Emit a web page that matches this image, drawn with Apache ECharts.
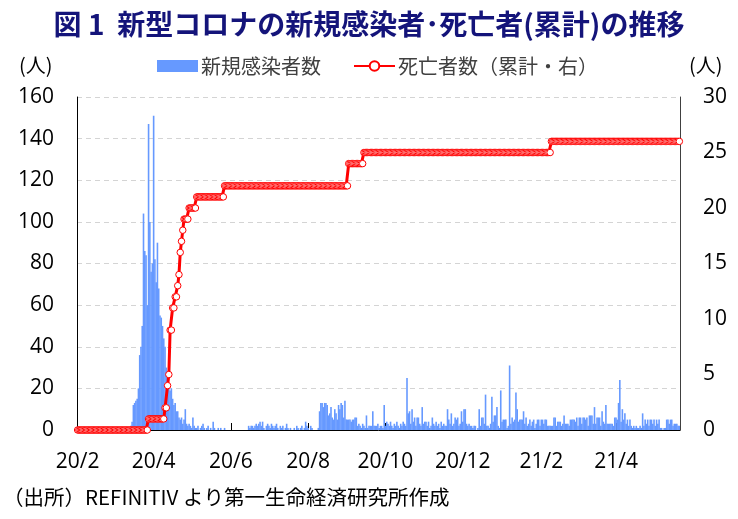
<!DOCTYPE html>
<html>
<head>
<meta charset="utf-8">
<script src="https://cdn.jsdelivr.net/npm/echarts@6/dist/echarts.min.js"></script>
<style>
html,body{margin:0;padding:0;background:#fff;}
#chart{width:738px;height:519px;}
</style>
</head>
<body>
<div id="chart"></div>
<script>
// ---- data (daily, starting 2020-02-01) ----
var startDate = '2020-02-01';
var newCases = [
0,0,0,0,0,0,0,0,0,0,
0,0,0,0,0,0,0,0,0,0,
0,0,0,0,0,0,0,0,1,0,
0,0,1,0,1,0,0,0,0,0,
1,1,2,4,12,13,14,15,20,36,
40,50,104,86,84,60,147,100,76,80,
151,82,71,90,68,55,54,50,44,40,
30,22,20,19,20,15,12,13,9,9,
6,5,6,3,5,10,3,2,3,2,
1,6,2,1,1,2,0,1,2,3,
1,0,1,2,0,1,0,4,1,0,
0,1,0,1,0,0,1,0,0,0,
0,0,0,0,0,0,0,0,0,0,
0,0,0,0,0,2,1,2,2,1,
2,3,2,3,4,2,4,1,0,2,
3,2,1,3,2,1,2,3,1,0,
2,1,2,0,1,3,1,0,1,0,
0,1,0,2,1,0,1,2,0,1,
4,2,1,0,2,1,0,0,0,0,
1,9,13,13,11,13,13,12,7,8,
11,6,5,10,8,5,12,10,13,12,
6,14,5,5,5,5,4,5,5,6,
6,2,3,2,1,3,2,1,7,1,
2,2,2,9,2,2,2,3,1,2,
2,1,12,2,4,3,2,4,2,1,
3,2,4,2,1,3,2,4,3,2,
25,8,9,3,10,4,6,2,6,6,
3,2,11,3,4,4,2,4,1,2,
6,3,2,4,2,3,1,4,2,3,
2,2,10,5,3,8,2,3,6,5,
6,2,3,9,4,10,10,3,2,3,
2,2,1,2,2,0,1,10,2,6,
6,3,17,2,2,1,3,16,4,7,
7,11,2,1,19,4,5,5,5,1,
2,31,3,6,4,5,18,10,4,5,
5,5,9,3,6,2,3,5,2,4,
5,1,3,5,5,2,5,5,3,5,
5,2,2,2,2,2,6,6,2,4,
4,4,2,3,7,3,3,3,2,5,
5,5,5,4,6,2,6,6,3,6,
6,5,6,2,7,7,7,3,11,3,
6,6,6,2,9,4,3,12,3,3,
3,3,3,2,6,6,5,13,24,4,
10,5,8,3,5,2,5,2,1,2,
1,2,1,1,2,1,8,2,5,3,
5,2,5,5,3,5,2,5,3,5,
1,1,0,1,1,5,5,3,5,5,
2,3,3,3,2,2
];
var deathsCum = [
0,0,0,0,0,0,0,0,0,0,
0,0,0,0,0,0,0,0,0,0,
0,0,0,0,0,0,0,0,0,0,
0,0,0,0,0,0,0,0,0,0,
0,0,0,0,0,0,0,0,0,0,
0,0,0,0,0,0,1,1,1,1,
1,1,1,1,1,1,1,1,1,2,
2,4,5,9,9,11,11,12,12,13,
14,16,17,18,19,19,19,19,20,20,
20,20,20,20,21,21,21,21,21,21,
21,21,21,21,21,21,21,21,21,21,
21,21,21,21,21,21,22,22,22,22,
22,22,22,22,22,22,22,22,22,22,
22,22,22,22,22,22,22,22,22,22,
22,22,22,22,22,22,22,22,22,22,
22,22,22,22,22,22,22,22,22,22,
22,22,22,22,22,22,22,22,22,22,
22,22,22,22,22,22,22,22,22,22,
22,22,22,22,22,22,22,22,22,22,
22,22,22,22,22,22,22,22,22,22,
22,22,22,22,22,22,22,22,22,22,
22,22,22,22,24,24,24,24,24,24,
24,24,24,24,24,24,25,25,25,25,
25,25,25,25,25,25,25,25,25,25,
25,25,25,25,25,25,25,25,25,25,
25,25,25,25,25,25,25,25,25,25,
25,25,25,25,25,25,25,25,25,25,
25,25,25,25,25,25,25,25,25,25,
25,25,25,25,25,25,25,25,25,25,
25,25,25,25,25,25,25,25,25,25,
25,25,25,25,25,25,25,25,25,25,
25,25,25,25,25,25,25,25,25,25,
25,25,25,25,25,25,25,25,25,25,
25,25,25,25,25,25,25,25,25,25,
25,25,25,25,25,25,25,25,25,25,
25,25,25,25,25,25,25,25,25,25,
25,25,25,25,25,25,25,25,25,25,
25,25,25,25,26,26,26,26,26,26,
26,26,26,26,26,26,26,26,26,26,
26,26,26,26,26,26,26,26,26,26,
26,26,26,26,26,26,26,26,26,26,
26,26,26,26,26,26,26,26,26,26,
26,26,26,26,26,26,26,26,26,26,
26,26,26,26,26,26,26,26,26,26,
26,26,26,26,26,26,26,26,26,26,
26,26,26,26,26,26,26,26,26,26,
26,26,26,26,26,26,26,26,26,26,
26,26,26,26,26,26
];
var xTickDates  = ['2020-02-01','2020-04-01','2020-06-01','2020-08-01','2020-10-01','2020-12-01','2021-02-01','2021-04-01'];
var xTickLabels = ['20/2','20/4','20/6','20/8','20/10','20/12','21/2','21/4'];
var seriesNames = ['新規感染者数','死亡者数（累計・右）'];

// daily date categories
var dates = [];
(function(){
  var p = startDate.split('-');
  var t0 = Date.UTC(+p[0], +p[1]-1, +p[2]);
  for (var i = 0; i < newCases.length; i++) {
    var d = new Date(t0 + i*86400000);
    var m = d.getUTCMonth()+1, dd = d.getUTCDate();
    dates.push(d.getUTCFullYear()+'-'+(m<10?'0':'')+m+'-'+(dd<10?'0':'')+dd);
  }
})();
function isTick(idx, val){ return xTickDates.indexOf(val) >= 0; }

var font = '"Open Sans","Noto Sans CJK JP",sans-serif';
var jp = '"Noto Sans CJK JP","Noto Sans",sans-serif';

var chart = echarts.init(document.getElementById('chart'), null, {renderer:'canvas'});
chart.setOption({
  animation: false,
  backgroundColor: '#fff',
  title: {
    text: '図 1  新型コロナの新規感染者･死亡者(累計)の推移',
    left: 'center', top: 5,
    textStyle: {fontFamily: jp, fontSize: 28, fontWeight: 'bold', color: '#14147a'}
  },
  legend: {
    left: 152, top: 51,
    itemWidth: 41, itemHeight: 12, itemGap: 32,
    textStyle: {fontFamily: jp, fontSize: 20, color: '#404040', padding:[0,0,0,-2]},
    data: [
      {name: seriesNames[0], icon: 'rect'},
      {name: seriesNames[1]}
    ]
  },
  graphic: [
    {type:'text', left: 19, top: 55, style:{text:'(人)', font:'20px '+jp, fill:'#000'}},
    {type:'text', left: 689, top: 55, style:{text:'(人)', font:'20px '+jp, fill:'#000'}},
    {type:'text', left: 3, top: 487, style:{text:'（出所）REFINITIV より第一生命経済研究所作成', font:'20.5px '+jp, fill:'#000'}}
  ],
  grid: {left: 77, right: 58, top: 97, bottom: 89, containLabel: false},
  xAxis: {
    type: 'category',
    data: dates,
    boundaryGap: true,
    axisLine: {show: true, lineStyle: {color: '#000', width: 1}},
    axisTick: {show: true, inside: true, length: 7, alignWithLabel: true, interval: isTick, lineStyle:{color:'#000'}},
    axisLabel: {
      interval: isTick, margin: 22,
      fontFamily: font, fontSize: 21, color: '#000',
      formatter: function(v){ var k = xTickDates.indexOf(v); return k>=0 ? xTickLabels[k] : ''; }
    },
    splitLine: {show: false}
  },
  yAxis: [
    {
      type: 'value', min: 0, max: 160, interval: 20,
      axisLine: {show: true, lineStyle: {color: '#000'}},
      axisTick: {show: false},
      axisLabel: {margin: 23, fontFamily: font, fontSize: 21, color: '#000'},
      splitLine: {show: true, lineStyle: {color: '#d4d4d4', type: [5,4], width: 1}}
    },
    {
      type: 'value', min: 0, max: 30, interval: 5,
      axisLine: {show: true, lineStyle: {color: '#404040'}},
      axisTick: {show: false},
      axisLabel: {margin: 23, fontFamily: font, fontSize: 21, color: '#000'},
      splitLine: {show: false}
    }
  ],
  series: [
    {
      name: seriesNames[0], type: 'bar', yAxisIndex: 0,
      data: newCases,
      barWidth: 1.6,
      itemStyle: {color: '#6699ff'},
      z: 2
    },
    {
      name: seriesNames[1], type: 'line', yAxisIndex: 1,
      data: deathsCum,
      showSymbol: true, showAllSymbol: true,
      symbol: 'circle', symbolSize: 6.5,
      lineStyle: {color: '#ff0000', width: 3},
      itemStyle: {color: '#ffffff', borderColor: '#ff0000', borderWidth: 1},
      z: 5
    }
  ]
});
</script>
</body>
</html>
